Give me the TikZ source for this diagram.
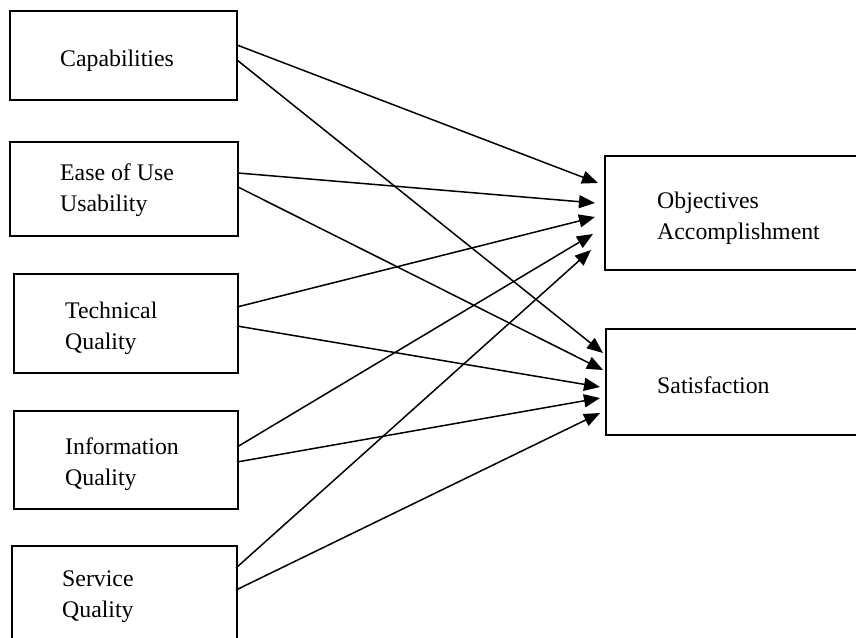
\documentclass[tikz,border=0pt]{standalone}
\usepackage{fontspec}
\setmainfont{Liberation Serif}
\usetikzlibrary{arrows.meta}
\begin{document}
\begin{tikzpicture}[x=1pt,y=-1pt,
  box/.style={draw,line width=2.2pt,inner sep=0pt,anchor=north west},
  lbl/.style={inner sep=0pt,anchor=base west,align=left,font=\fontsize{23.8}{31}\selectfont},
  link/.style={line width=1.5pt,-{Triangle[length=16pt,width=13pt]}}]
\useasboundingbox (0,0) rectangle (856,637);
% left boxes
\node[box,minimum width=227pt,minimum height=89pt] (cap) at (9,10) {};
\node[box,minimum width=228pt,minimum height=94pt] (ease) at (9,141) {};
\node[box,minimum width=224pt,minimum height=99pt] (tech) at (13,273) {};
\node[box,minimum width=224pt,minimum height=98pt] (info) at (13,410) {};
\node[box,minimum width=225pt,minimum height=110pt] (serv) at (11,545) {};
% right boxes
\node[box,minimum width=270pt,minimum height=114pt] (obj) at (604,155) {};
\node[box,minimum width=270pt,minimum height=106pt] (sat) at (605,328) {};
% labels (anchor = baseline of the last line)
\node[lbl] (tcap) at (60,66.7) {Capabilities};
\node[lbl] (tease) at (60,211) {Ease of Use\\Usability};
\node[lbl] (ttech) at (65,349.5) {Technical\\Quality};
\node[lbl] (tinfo) at (65,485) {Information\\Quality};
\node[lbl] (tserv) at (62,617) {Service\\Quality};
\node[lbl] (tobj) at (657,239) {Objectives\\Accomplishment};
\node[lbl] (tsat) at (657,393) {Satisfaction};
% start points
\coordinate (c1) at (237,45);  \coordinate (c2) at (237,60);
\coordinate (e1) at (238,173); \coordinate (e2) at (238,187);
\coordinate (t1) at (237,307); \coordinate (t2) at (237,326);
\coordinate (i1) at (237,447); \coordinate (i2) at (237,462);
\coordinate (s1) at (236,568); \coordinate (s2) at (236,590);
% end points
\coordinate (o1) at (598,183); \coordinate (o2) at (595,203);
\coordinate (o3) at (595,217); \coordinate (o4) at (593,234);
\coordinate (o5) at (591,250);
\coordinate (a1) at (603,353); \coordinate (a2) at (603,370);
\coordinate (a3) at (600,387); \coordinate (a4) at (600,398);
\coordinate (a5) at (600,413);
\draw[link] (c1) -- (o1);
\draw[link] (c2) -- (a1);
\draw[link] (e1) -- (o2);
\draw[link] (e2) -- (a2);
\draw[link] (t1) -- (o3);
\draw[link] (t2) -- (a3);
\draw[link] (i1) -- (o4);
\draw[link] (i2) -- (a4);
\draw[link] (s1) -- (o5);
\draw[link] (s2) -- (a5);
\end{tikzpicture}
\end{document}
